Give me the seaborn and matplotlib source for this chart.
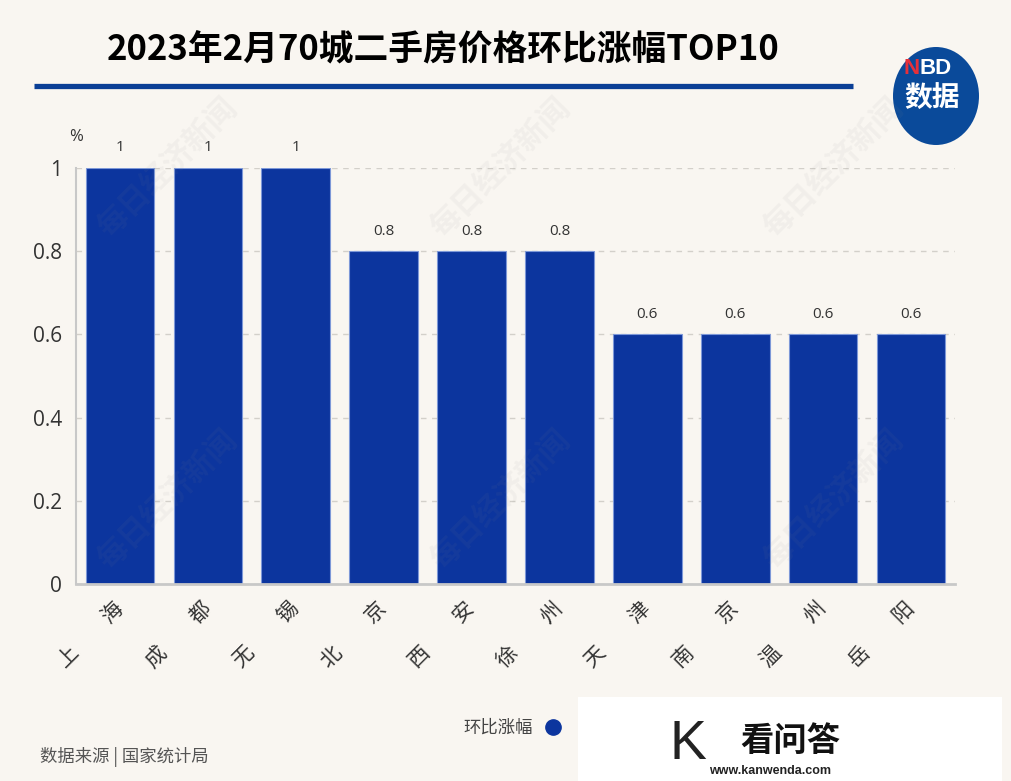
import matplotlib
matplotlib.use("Agg")
import matplotlib.pyplot as plt
import seaborn as sns
from matplotlib.lines import Line2D
from matplotlib.patches import Ellipse, Rectangle

# Data
cities = ["上海", "成都", "无锡", "北京", "西安", "徐州", "天津", "南京", "温州", "岳阳"]
values = [1, 1, 1, 0.8, 0.8, 0.8, 0.6, 0.6, 0.6, 0.6]
yticks = [0, 0.2, 0.4, 0.6, 0.8, 1]
ytick_labels = ["0", "0.2", "0.4", "0.6", "0.8", "1"]

bg = "#f9f6f1"
bar_color = "#0c359e"

sns.set_theme(style="white")
plt.rcParams["font.family"] = ["Open Sans", "Noto Sans CJK SC", "DejaVu Sans"]

fig = plt.figure(figsize=(10.12, 7.81), dpi=100, facecolor=bg)
ax = fig.add_axes([0.0751, 0.2522, 0.8686, 0.5327])
ax.set_facecolor(bg)

sns.barplot(x=cities, y=values, color=bar_color, width=0.78,
            edgecolor="#7d98d8", linewidth=0.8, saturation=1, ax=ax)

ax.bar_label(ax.containers[0], fmt="%g", padding=9, fontsize=11, color="#333333")

# Axes styling
ax.set_ylim(0, 1)
ax.set_xlim(-0.5, 9.5)
ax.set_yticks(yticks)
ax.set_yticklabels(ytick_labels, fontsize=15, color="#333333")
ax.yaxis.grid(True, linestyle=(0, (4, 4)), color="#d3d0ca", linewidth=1)
ax.set_axisbelow(True)
for s in ["top", "right"]:
    ax.spines[s].set_visible(False)
ax.spines["left"].set_color("#c8c8c8")
ax.spines["left"].set_linewidth(1.5)
ax.spines["bottom"].set_color("#c8c8c8")
ax.spines["bottom"].set_linewidth(2)
ax.tick_params(axis="y", length=0, pad=10)
ax.tick_params(axis="x", length=0, pad=15)
ax.set_xlabel("")
ax.set_ylabel("")

ax.set_xticks(range(len(cities)))
ax.set_xticklabels(["\u3000\u3000".join(c) for c in cities], rotation=45,
                   ha="right", va="center", rotation_mode="anchor",
                   fontsize=15, color="#333333",
                   family=["Noto Sans CJK SC", "DejaVu Sans"], fontweight="light")

fig.text(76 / 1012, 1 - 137 / 781, "%", fontsize=12, color="#333333",
         ha="center", va="center")

# Title and rule
fig.text(443 / 1012, 1 - 50 / 781, "2023年2月70城二手房价格环比涨幅TOP10",
         fontsize=25, fontweight="bold", color="black", ha="center", va="center",
         family=["Noto Sans CJK SC", "DejaVu Sans"])
fig.add_artist(Line2D([34 / 1012, 853 / 1012], [1 - 86 / 781, 1 - 86 / 781],
                      color="#0b3f96", linewidth=3.8, solid_capstyle="butt"))

# NBD logo
fig.add_artist(Ellipse((936 / 1012, 1 - 96 / 781), 86 / 1012, 98 / 781,
                       facecolor="#0a4a9a", edgecolor="none"))
fig.text(920 / 1012, 1 - 69 / 781, "N", color="#e5303a", fontsize=16,
         fontweight="bold", ha="right", va="center", family=["Liberation Sans"])
fig.text(920 / 1012, 1 - 69 / 781, "BD", color="white", fontsize=16,
         fontweight="bold", ha="left", va="center", family=["Liberation Sans"])
fig.text(932 / 1012, 1 - 99 / 781, "数据", color="white", fontsize=20,
         fontweight="bold", ha="center", va="center",
         family=["Noto Sans CJK SC", "DejaVu Sans"])

# Watermarks
for wx in [167, 500, 833]:
    for wy in [168, 500]:
        fig.text(wx / 1012, 1 - wy / 781, "每日经济新闻", rotation=45, fontsize=22,
                 fontweight="bold", color="#8a8a8a", alpha=0.07, ha="center",
                 va="center", family=["Noto Sans CJK SC", "DejaVu Sans"])

# Legend
handle = Line2D([], [], marker="o", linestyle="none", markersize=11,
                markerfacecolor=bar_color, markeredgecolor=bar_color)
fig.legend([handle], ["环比涨幅"], loc="center", bbox_to_anchor=(517 / 1012, 1 - 728 / 781),
           frameon=False, markerfirst=False, handletextpad=0.2,
           prop={"family": ["Noto Sans CJK SC", "DejaVu Sans"], "size": 12.5},
           labelcolor="#444444")

# Source
fig.text(40 / 1012, 1 - 757 / 781, "数据来源 | 国家统计局", fontsize=12.5, color="#555555",
         ha="left", va="center", family=["Noto Sans CJK SC", "DejaVu Sans"])

# Bottom-right site stamp
fig.add_artist(Rectangle((578 / 1012, 0), 424 / 1012, 84 / 781,
                         facecolor="white", edgecolor="none", zorder=20))
fig.text(790 / 1012, 1 - 741 / 781, "看问答", fontsize=24, fontweight="bold",
         color="#111111", ha="center", va="center", zorder=21,
         family=["Noto Sans CJK SC", "DejaVu Sans"])
fig.text(770 / 1012, 1 - 771 / 781, "www.kanwenda.com", fontsize=9, fontweight="bold",
         color="#222222", ha="center", va="center", zorder=21, family=["Liberation Sans"])
fig.text(688 / 1012, 1 - 745 / 781, "K", fontsize=40, color="#222222",
         ha="center", va="center", zorder=21, family=["Liberation Sans"])

fig.savefig("out.png", dpi=100, facecolor=bg)
